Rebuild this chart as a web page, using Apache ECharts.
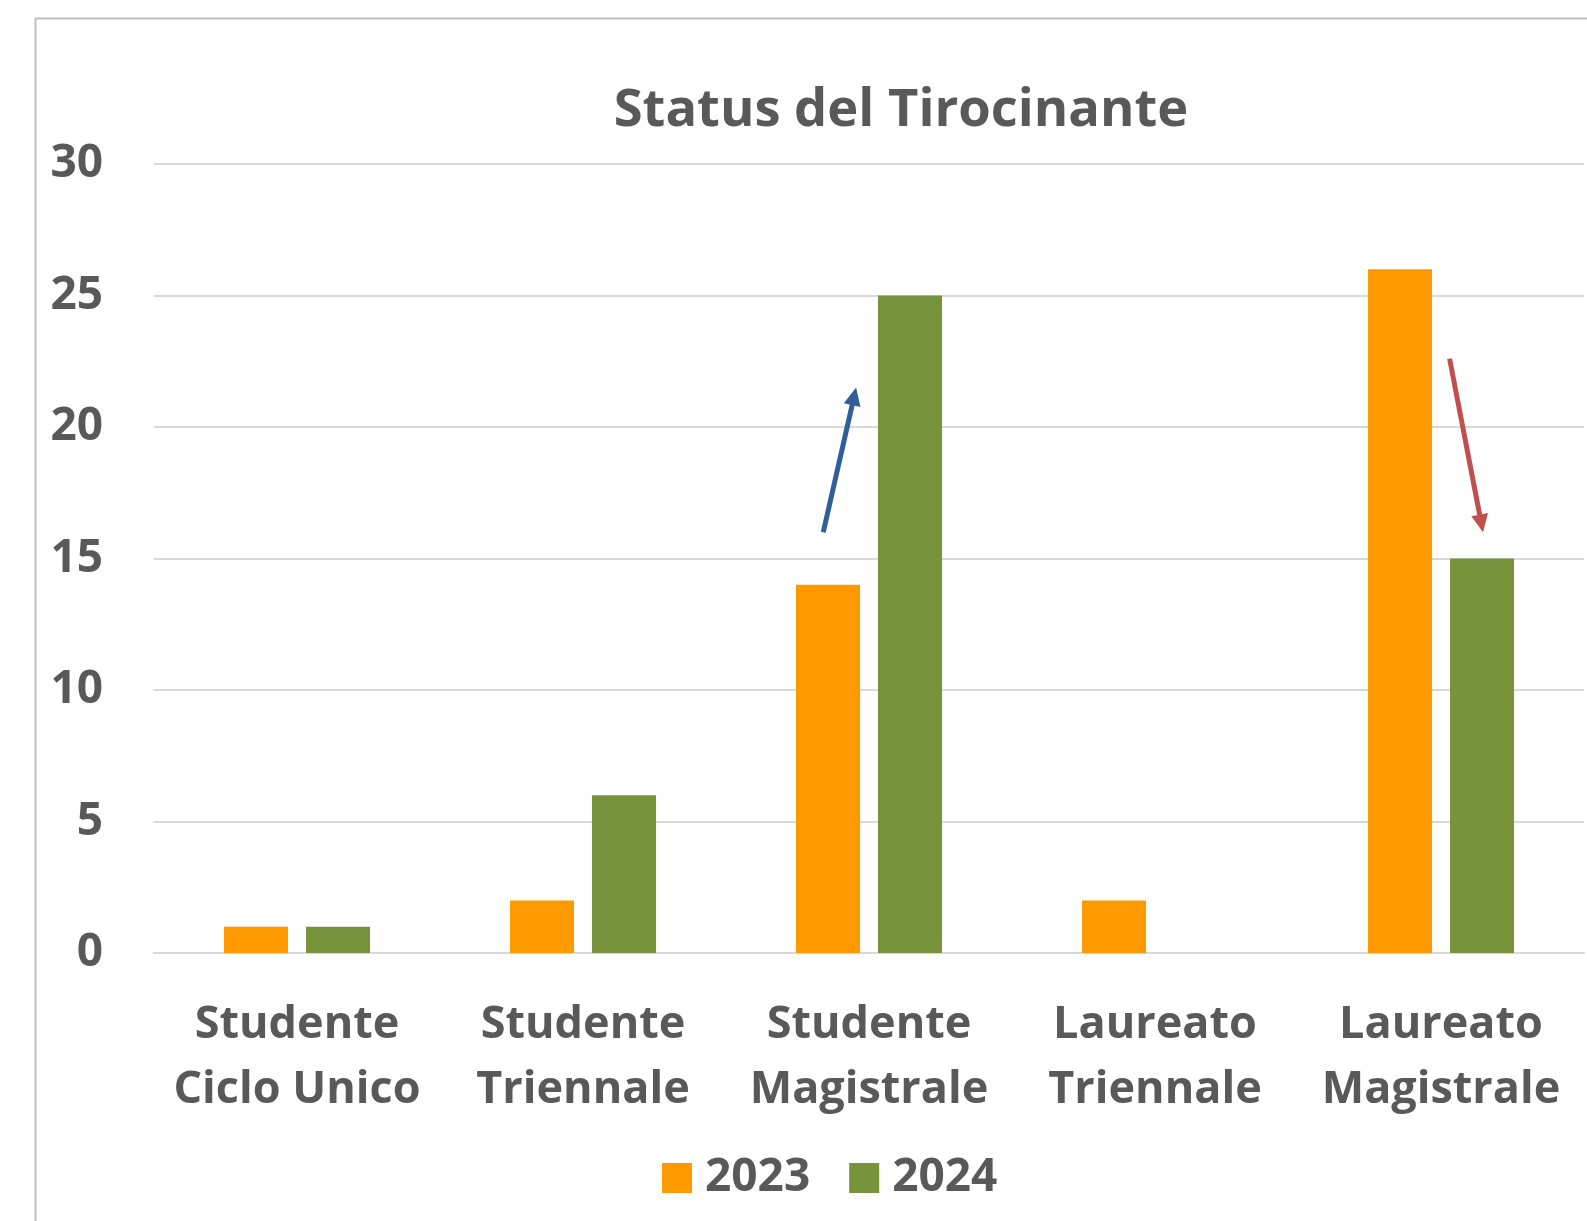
<!DOCTYPE html>
<html>
<head>
<meta charset="utf-8">
<script src="https://cdn.jsdelivr.net/npm/echarts@6/dist/echarts.min.js"></script>
<style>
html,body{margin:0;padding:0;background:#fff;}
#c{width:1587px;height:1221px;}
</style>
</head>
<body>
<div id="c"></div>
<script>
const categories = ['Studente\nCiclo Unico', 'Studente\nTriennale', 'Studente\nMagistrale', 'Laureato\nTriennale', 'Laureato\nMagistrale'];
const seriesNames = ['2023', '2024'];
const values2023 = [1, 2, 14, 2, 26];
const values2024 = [1, 6, 25, 0, 15];
const yTicks = [0, 5, 10, 15, 20, 25, 30];
// arrows: [category index, x offset start (band fraction), value start, x offset end, value end]
const arrowData = [
  [2, -0.16, 16.0, -0.045, 21.5],
  [4, 0.03, 22.6, 0.147, 16.0]
];
const arrowColors = ['#2f5f96', '#c0504d'];

const FONT = 'Open Sans';
const TXT = '#595959';

const chart = echarts.init(document.getElementById('c'), null, {renderer: 'canvas'});

function renderArrow(params, api) {
  const idx = api.value(0);
  const band = api.size([1, 0])[0];
  const p0 = api.coord([idx, api.value(2)]);
  const p1 = api.coord([idx, api.value(4)]);
  const x0 = p0[0] + api.value(1) * band, y0 = p0[1];
  const x1 = p1[0] + api.value(3) * band, y1 = p1[1];
  const dx = x1 - x0, dy = y1 - y0;
  const len = Math.sqrt(dx * dx + dy * dy);
  const ux = dx / len, uy = dy / len;
  const hl = 18, hw = 8.5;
  const bx = x1 - ux * hl, by = y1 - uy * hl;
  const color = arrowColors[params.dataIndex];
  return {
    type: 'group',
    children: [
      {type: 'line', shape: {x1: x0, y1: y0, x2: bx + ux * 2, y2: by + uy * 2},
        style: {stroke: color, lineWidth: 5}},
      {type: 'polygon', shape: {points: [[x1, y1], [bx - uy * hw, by + ux * hw], [bx + uy * hw, by - ux * hw]]},
        style: {fill: color}}
    ]
  };
}

chart.setOption({
  animation: false,
  backgroundColor: '#fff',
  graphic: [{
    type: 'rect', left: 33, top: 16, z: -10,
    shape: {width: 1600, height: 1300},
    style: {fill: 'none', stroke: '#bfbfbf', lineWidth: 2}
  }],
  title: {
    text: 'Status del Tirocinante',
    left: 896, textAlign: 'center', top: 80,
    textStyle: {fontFamily: FONT, fontWeight: 'bold', fontSize: 52.5, color: TXT}
  },
  legend: {
    data: seriesNames,
    left: 657, top: 1150,
    itemWidth: 30, itemHeight: 30, itemGap: 39,
    icon: 'rect',
    textStyle: {fontFamily: FONT, fontWeight: 'bold', fontSize: 46, color: TXT, padding: [0, 0, 0, 8]}
  },
  grid: {left: 154, right: 3, top: 164, bottom: 1221 - 953},
  xAxis: {
    type: 'category',
    data: categories,
    axisLine: {lineStyle: {color: '#d9d9d9', width: 2}},
    axisTick: {show: false},
    axisLabel: {fontFamily: FONT, fontWeight: 'bold', fontSize: 45, color: TXT, lineHeight: 65, margin: 40, interval: 0}
  },
  yAxis: {
    type: 'value', min: 0, max: 30, interval: 5,
    axisLine: {show: false}, axisTick: {show: false},
    splitLine: {lineStyle: {color: '#d9d9d9', width: 2}},
    axisLabel: {fontFamily: FONT, fontWeight: 'bold', fontSize: 46, color: TXT, margin: 51, padding: [12, 0, 0, 0],
      formatter: v => yTicks.includes(v) ? String(v) : ''}
  },
  series: [
    {name: seriesNames[0], type: 'bar', data: values2023, barWidth: '22.4%', barGap: '28%',
      itemStyle: {color: '#ff9900'}},
    {name: seriesNames[1], type: 'bar', data: values2024, barWidth: '22.4%', barGap: '28%',
      itemStyle: {color: '#77933c'}},
    {type: 'custom', renderItem: renderArrow, data: arrowData, z: 5, silent: true,
      encode: {x: 0, y: [2, 4]}}
  ]
});
</script>
</body>
</html>
